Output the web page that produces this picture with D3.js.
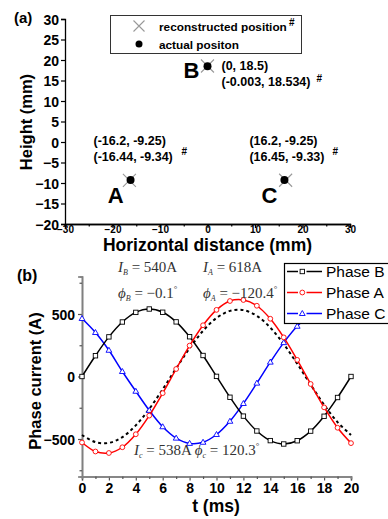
<!DOCTYPE html>
<html>
<head>
<meta charset="utf-8">
<script src="https://cdn.jsdelivr.net/npm/d3@7"></script>
<style>
  html, body { margin: 0; padding: 0; background: #fff; }
  svg { display: block; }
</style>
</head>
<body>
<svg id="chart" width="388" height="519"></svg>
<script>
// ---------- Panel (a) data ----------
const pointLabels = ["A", "B", "C"];
const actualX = [-16.2, 0, 16.2];
const actualY = [-9.25, 18.5, -9.25];
const reconX = [-16.44, -0.003, 16.45];
const reconY = [-9.34, 18.534, -9.33];
const actualText = ["(-16.2, -9.25)", "(0, 18.5)", "(16.2, -9.25)"];
const reconText = ["(-16.44, -9.34)", "(-0.003, 18.534)", "(16.45, -9.33)"];
const topXTicks = [-30, -20, -10, 0, 10, 20, 30];
const topXMinor = [-25, -15, -5, 5, 15, 25];
const topYTicks = [-20, -15, -10, -5, 0, 5, 10, 15, 20, 25, 30];

// ---------- Panel (b) data ----------
const timeMs = [0,1,2,3,4,5,6,7,8,9,10,11,12,13,14,15,16,17,18,19,20];
const phaseB = [0, 166, 317, 436, 513, 540, 514, 437, 318, 168, 1, -166, -317, -436, -513, -540, -514, -437, -318, -168, 0];
const phaseA = [-528, -600, -612, -566, -462, -313, -133, 60, 247, 410, 533, 604, 612, 566, 462, 313, 133, -60, -247, -410, -533];
const phaseC = [464, 352, 210, 40, -118, -271, -402, -493, -535, -526, -464, -358, -216, -53, 115, 271, 402, 493, 535, 526, 464];
const fitDotted = [-468, -525, -531, -485, -391, -259, -102, 65, 226, 365, 468, 525, 531, 485, 391, 259, 102, -65, -226, -365, -468];
const seriesNames = ["Phase B", "Phase A", "Phase C"];
const botXTicks = [0, 2, 4, 6, 8, 10, 12, 14, 16, 18, 20];
const botXMinor = [1, 3, 5, 7, 9, 11, 13, 15, 17, 19];
const botYTicks = [-500, 0, 500];
const botYMinor = [-750, -250, 250, 750];

const svg = d3.select("#chart");
const SANS = "'Liberation Sans', Arial, sans-serif";
const SERIF = "'Liberation Serif', 'Times New Roman', serif";

// ================= Panel (a) =================
const xA = d3.scaleLinear().domain([-30, 30]).range([65, 350]);
const yA = d3.scaleLinear().domain([-20, 30]).range([224, 19]);
const gA = svg.append("g");

const axAx = gA.append("g").attr("transform", `translate(0,${yA(-20)})`)
  .call(d3.axisBottom(xA).tickValues(topXTicks).tickSize(4).tickPadding(-2.5).tickFormat(d3.format("d")));
const axAxm = gA.append("g").attr("transform", `translate(0,${yA(-20)})`)
  .call(d3.axisBottom(xA).tickValues(topXMinor).tickSize(2.5).tickFormat(""));
const axAy = gA.append("g").attr("transform", `translate(${xA(-30)},0)`)
  .call(d3.axisLeft(yA).tickValues(topYTicks).tickSize(4).tickPadding(2).tickFormat(d3.format("d")));
[axAx, axAxm, axAy].forEach(a => {
  a.select(".domain").attr("stroke", "#000").attr("stroke-width", 1.3);
  a.selectAll(".tick line").attr("stroke", "#000").attr("stroke-width", 1.2);
});
axAx.selectAll(".tick text").attr("font-family", SANS).attr("font-weight", "bold")
  .attr("font-size", "10px").attr("fill", "#000");
axAy.selectAll(".tick text").attr("font-family", SANS).attr("font-weight", "bold")
  .attr("font-size", "14px").attr("fill", "#000").attr("dy", "0.36em");

gA.append("text").attr("x", 14).attr("y", 23).text("(a)")
  .attr("font-family", SANS).attr("font-weight", "bold").attr("font-size", "15px");
gA.append("text").attr("transform", "translate(32,122) rotate(-90)").attr("text-anchor", "middle")
  .text("Height (mm)").attr("font-family", SANS).attr("font-weight", "bold").attr("font-size", "16.5px");
gA.append("text").attr("x", 207.5).attr("y", 250.5).attr("text-anchor", "middle")
  .text("Horizontal distance (mm)").attr("font-family", SANS).attr("font-weight", "bold").attr("font-size", "17.5px");

// legend (a)
const legA = gA.append("g");
legA.append("rect").attr("x", 110.5).attr("y", 15.5).attr("width", 191).attr("height", 38)
  .attr("fill", "#fff").attr("stroke", "#333").attr("stroke-width", 1);
function xMark(g, cx, cy, r) {
  g.append("path").attr("d", `M${cx - r},${cy - r}L${cx + r},${cy + r}M${cx - r},${cy + r}L${cx + r},${cy - r}`)
    .attr("stroke", "#999").attr("stroke-width", 1.1).attr("fill", "none");
}
xMark(legA, 139, 26, 5.5);
legA.append("circle").attr("cx", 139).attr("cy", 44).attr("r", 3.5).attr("fill", "#000");
legA.append("text").attr("x", 159).attr("y", 30.5).attr("font-family", SANS).attr("font-weight", "bold")
  .attr("font-size", "11.8px").text("reconstructed position");
legA.append("text").attr("x", 289).attr("y", 26).attr("font-family", SANS).attr("font-weight", "bold")
  .attr("font-size", "10px").text("#");
legA.append("text").attr("x", 159).attr("y", 48.5).attr("font-family", SANS).attr("font-weight", "bold")
  .attr("font-size", "11.8px").text("actual positon");

// points
const pts = pointLabels.map((l, i) => ({
  label: l, ax: actualX[i], ay: actualY[i], rx: reconX[i], ry: reconY[i],
  at: actualText[i], rt: reconText[i]
}));
pts.forEach(p => {
  xMark(gA, xA(p.rx), yA(p.ry), 6.5);
  gA.append("circle").attr("cx", xA(p.ax)).attr("cy", yA(p.ay)).attr("r", 4).attr("fill", "#000");
});
const letterOff = { A: [-7, 23], B: [-8, 12], C: [-7, 23] };
const textOff = { A: [-37, -35], B: [14, 4], C: [-35, -35] };
const hashOff = { A: [51, -25], B: [109, 16], C: [48, -25] };
pts.forEach(p => {
  const px = xA(p.ax), py = yA(p.ay);
  gA.append("text").attr("x", px + letterOff[p.label][0]).attr("y", py + letterOff[p.label][1])
    .attr("text-anchor", "end").attr("font-family", SANS).attr("font-weight", "bold")
    .attr("font-size", "22px").text(p.label);
  const tx = px + textOff[p.label][0], ty = py + textOff[p.label][1];
  gA.append("text").attr("x", tx).attr("y", ty).attr("font-family", SANS).attr("font-weight", "bold")
    .attr("font-size", "12.5px").text(p.at);
  gA.append("text").attr("x", tx).attr("y", ty + 16).attr("font-family", SANS).attr("font-weight", "bold")
    .attr("font-size", "12.5px").text(p.rt);
  gA.append("text").attr("x", px + hashOff[p.label][0]).attr("y", py + hashOff[p.label][1])
    .attr("font-family", SANS).attr("font-weight", "bold").attr("font-size", "10px").text("#");
});

// ================= Panel (b) =================
const xB = d3.scaleLinear().domain([0, 20]).range([82, 351]);
const yB = d3.scaleLinear().domain([-800, 800]).range([476.5, 276.5]);
const gB = svg.append("g");
const AXC = "#808080";

const axBx = gB.append("g").attr("transform", `translate(0,${yB(-800)})`)
  .call(d3.axisBottom(xB).tickValues(botXTicks).tickSize(4).tickPadding(3).tickFormat(d3.format("d")));
const axBxm = gB.append("g").attr("transform", `translate(0,${yB(-800)})`)
  .call(d3.axisBottom(xB).tickValues(botXMinor).tickSize(2.5).tickFormat(""));
const axBy = gB.append("g").attr("transform", `translate(${xB(0)},0)`)
  .call(d3.axisLeft(yB).tickValues(botYTicks).tickSize(4).tickPadding(3).tickFormat(d3.format("d")));
const axBym = gB.append("g").attr("transform", `translate(${xB(0)},0)`)
  .call(d3.axisLeft(yB).tickValues(botYMinor).tickSize(2.5).tickFormat(""));
[axBx, axBxm, axBy, axBym].forEach(a => {
  a.select(".domain").attr("stroke", AXC).attr("stroke-width", 1.6);
  a.selectAll(".tick line").attr("stroke", "#555").attr("stroke-width", 1.2);
});
axBx.selectAll(".tick text").attr("font-family", SANS).attr("font-weight", "bold")
  .attr("font-size", "14px").attr("fill", "#000");
axBy.selectAll(".tick text").attr("font-family", SANS).attr("font-weight", "bold")
  .attr("font-size", "14px").attr("fill", "#000").attr("dy", "0.36em");

gB.append("text").attr("x", 17).attr("y", 281).text("(b)")
  .attr("font-family", SANS).attr("font-weight", "bold").attr("font-size", "16px");
gB.append("text").attr("transform", "translate(41,381) rotate(-90)").attr("text-anchor", "middle")
  .text("Phase current (A)").attr("font-family", SANS).attr("font-weight", "bold").attr("font-size", "16.5px");
gB.append("text").attr("x", 216).attr("y", 512).attr("text-anchor", "middle")
  .text("t (ms)").attr("font-family", SANS).attr("font-weight", "bold").attr("font-size", "17.5px");

const line = d3.line().x((d, i) => xB(timeMs[i])).y(d => yB(d)).curve(d3.curveCatmullRom.alpha(0.5));

gB.append("path").attr("d", line(fitDotted)).attr("fill", "none").attr("stroke", "#000")
  .attr("stroke-width", 2).attr("stroke-dasharray", "3,3");

const colors = { "Phase B": "#000000", "Phase A": "#ff0000", "Phase C": "#0000ff" };
const seriesData = { "Phase B": phaseB, "Phase A": phaseA, "Phase C": phaseC };
const shapes = { "Phase B": "square", "Phase A": "circle", "Phase C": "triangle" };

function marker(g, shape, cx, cy, color) {
  if (shape === "square") {
    g.append("rect").attr("x", cx - 2.2).attr("y", cy - 2.2).attr("width", 4.4).attr("height", 4.4)
      .attr("fill", "#fff").attr("stroke", color).attr("stroke-width", 0.9);
  } else if (shape === "circle") {
    g.append("circle").attr("cx", cx).attr("cy", cy).attr("r", 2.4)
      .attr("fill", "#fff").attr("stroke", color).attr("stroke-width", 0.9);
  } else {
    g.append("path").attr("d", `M${cx},${cy - 3}L${cx + 2.9},${cy + 2}L${cx - 2.9},${cy + 2}Z`)
      .attr("fill", "#fff").attr("stroke", color).attr("stroke-width", 0.9);
  }
}

["Phase C", "Phase B", "Phase A"].forEach(name => {
  const vals = seriesData[name];
  const g = gB.append("g");
  g.append("path").attr("d", line(vals)).attr("fill", "none").attr("stroke", colors[name]).attr("stroke-width", 1.5);
  vals.forEach((v, i) => marker(g, shapes[name], xB(timeMs[i]), yB(v), colors[name]));
});

const legB = gB.append("g");
legB.append("rect").attr("x", 284.5).attr("y", 263.5).attr("width", 120).attr("height", 60)
  .attr("fill", "#fff").attr("stroke", "#000").attr("stroke-width", 1.2);
const rowsY = [271.5, 292.5, 313.5];
seriesNames.forEach((name, i) => {
  const y = rowsY[i];
  legB.append("line").attr("x1", 287).attr("x2", 298).attr("y1", y).attr("y2", y)
    .attr("stroke", colors[name]).attr("stroke-width", 1.5);
  legB.append("line").attr("x1", 306.5).attr("x2", 322).attr("y1", y).attr("y2", y)
    .attr("stroke", colors[name]).attr("stroke-width", 1.5);
  marker(legB, shapes[name], 302.3, y, colors[name]);
  legB.append("text").attr("x", 326).attr("y", y + 5.5).attr("font-family", SANS)
    .attr("font-size", "15.5px").attr("fill", "#000").text(name);
});

function annot(x, y, sym, sub, rest) {
  const t = gB.append("text").attr("x", x).attr("y", y).attr("font-family", SERIF)
    .attr("font-size", "15px").attr("fill", "#333");
  t.append("tspan").attr("font-style", "italic").text(sym);
  t.append("tspan").attr("font-style", "italic").attr("font-size", "8px").attr("dy", 3).text(sub);
  t.append("tspan").attr("dy", -3).text(rest);
  return t;
}
annot(118, 272, "I", "B", " = 540A");
annot(203, 272, "I", "A", " = 618A");
const pB = annot(118, 298, "\u03d5", "B", " = \u22120.1");
pB.append("tspan").attr("font-size", "9px").attr("dy", -6).text("\u00b0");
const pA = annot(203, 298, "\u03d5", "A", " = \u2212120.4");
pA.append("tspan").attr("font-size", "9px").attr("dy", -6).text("\u00b0");
const cT = annot(134, 455, "I", "c", " = 538A ");
cT.append("tspan").attr("font-style", "italic").text("\u03d5");
cT.append("tspan").attr("font-style", "italic").attr("font-size", "8px").attr("dy", 3).text("c");
cT.append("tspan").attr("dy", -3).text(" = 120.3");
cT.append("tspan").attr("font-size", "9px").attr("dy", -6).text("\u00b0");
</script>
</body>
</html>
